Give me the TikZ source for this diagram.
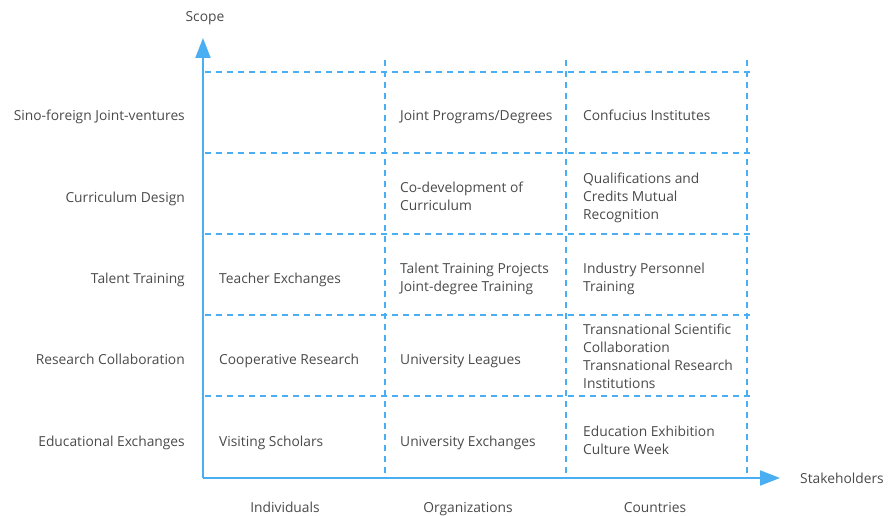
\documentclass[tikz,border=0pt]{standalone}
\usepackage{fontspec}
\setmainfont{Open Sans}
\usetikzlibrary{arrows.meta}
\definecolor{axisblue}{HTML}{4AAEF2}
\definecolor{txtgray}{HTML}{4A4A4A}
\begin{document}
\begin{tikzpicture}[x=1pt,y=-1pt,
  grid/.style={axisblue, line width=1.6pt, dash pattern=on 6pt off 5pt},
  axis/.style={axisblue, line width=2pt, -{Triangle[length=20pt,width=15pt]}},
  lab/.style={text=txtgray, font=\fontsize{13.8}{18}\selectfont, inner sep=0pt,
    yshift=-3pt, execute at begin node=\strut, execute at end node=\strut},
  rowlab/.style={lab, anchor=east},
  cell/.style={lab, anchor=west, align=left},
  collab/.style={text=txtgray, font=\fontsize{13.8}{18}\selectfont, inner sep=0pt, anchor=base}]
\useasboundingbox (0,0) rectangle (889,516);
% grid
\foreach \y in {72,153,234,315,396} \draw[grid] (205,\y) -- (752,\y);
\foreach \x in {385,566,747} \draw[grid] (\x,60) -- (\x,477);
% axes
\coordinate (o) at (203,478);
\coordinate (ytip) at (203,38);
\coordinate (xtip) at (780,478);
\draw[axis] (o) -- (ytip);
\draw[axis] (o) -- (xtip);
\node[collab] (scope) at (205,22) {Scope};
\node[collab, anchor=base west] (stake) at (800,483) {Stakeholders};
% row labels
\node[rowlab] (r1) at (185,114) {Sino-foreign Joint-ventures};
\node[rowlab] (r2) at (185,196) {Curriculum Design};
\node[rowlab] (r3) at (185,277) {Talent Training};
\node[rowlab] (r4) at (185,358) {Research Collaboration};
\node[rowlab] (r5) at (185,440) {Educational Exchanges};
% column labels
\node[collab] (c1) at (285,512) {Individuals};
\node[collab] (c2) at (468,512) {Organizations};
\node[collab] (c3) at (655,512) {Countries};
% cells
\node[cell] (a13) at (400,114) {Joint Programs/Degrees};
\node[cell] (a14) at (583,114) {Confucius Institutes};
\node[cell] (a23) at (400,196) {Co-development of\\Curriculum};
\node[cell] (a24) at (583,196) {Qualifications and\\Credits Mutual\\Recognition};
\node[cell] (a32) at (219,277) {Teacher Exchanges};
\node[cell] (a33) at (400,277) {Talent Training Projects\\Joint-degree Training};
\node[cell] (a34) at (583,277) {Industry Personnel\\Training};
\node[cell] (a42) at (219,358) {Cooperative Research};
\node[cell] (a43) at (400,358) {University Leagues};
\node[cell] (a44) at (583,356) {Transnational Scientific\\Collaboration\\Transnational Research\\Institutions};
\node[cell] (a52) at (219,440) {Visiting Scholars};
\node[cell] (a53) at (400,440) {University Exchanges};
\node[cell] (a54) at (583,440) {Education Exhibition\\Culture Week};
\end{tikzpicture}
\end{document}
